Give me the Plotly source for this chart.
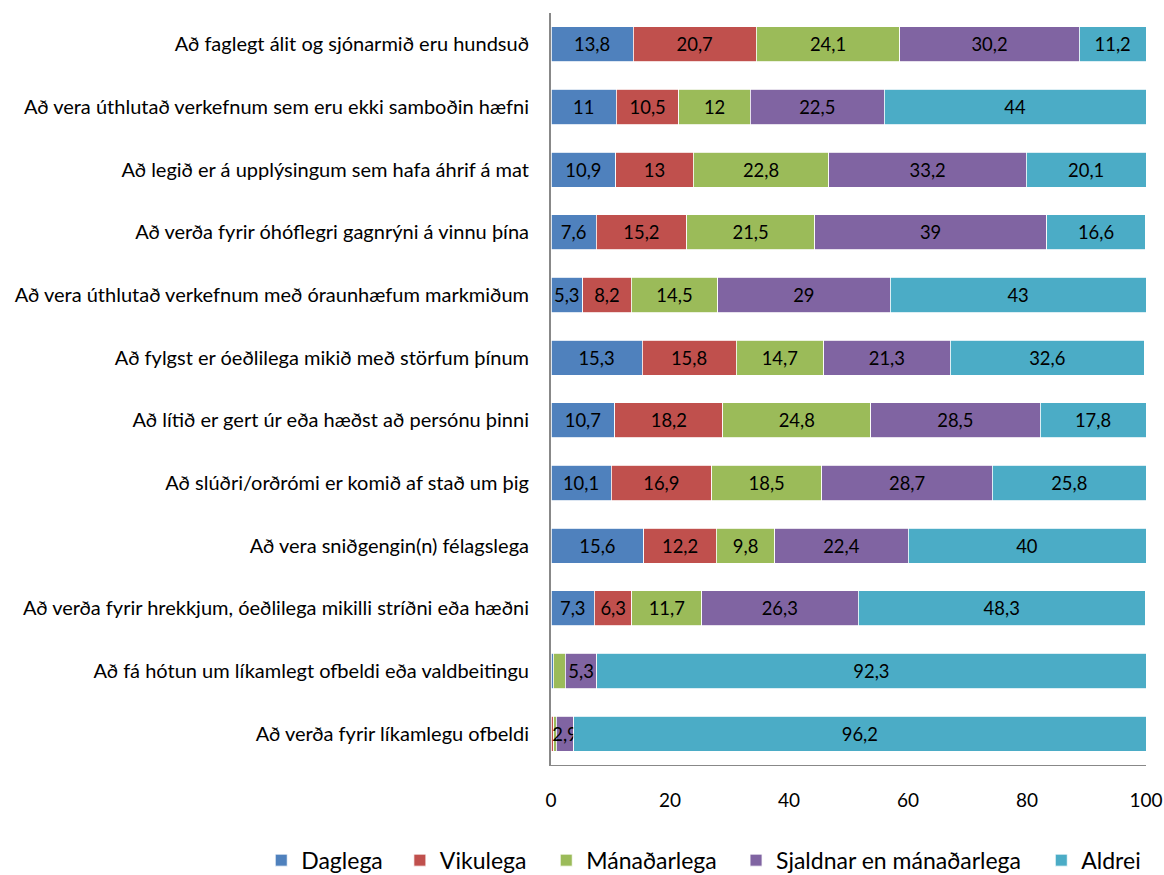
import plotly.graph_objects as go

categories = [
    'Að faglegt álit og sjónarmið eru hundsuð',
    'Að vera úthlutað verkefnum sem eru ekki samboðin hæfni',
    'Að legið er á upplýsingum sem hafa áhrif á mat',
    'Að verða fyrir óhóflegri gagnrýni á vinnu þína',
    'Að vera úthlutað verkefnum með óraunhæfum markmiðum',
    'Að fylgst er óeðlilega mikið með störfum þínum',
    'Að lítið er gert úr eða hæðst að persónu þinni',
    'Að slúðri/orðrómi er komið af stað um þig',
    'Að vera sniðgengin(n) félagslega',
    'Að verða fyrir hrekkjum, óeðlilega mikilli stríðni eða hæðni',
    'Að fá hótun um líkamlegt ofbeldi eða valdbeitingu',
    'Að verða fyrir líkamlegu ofbeldi',
]

daglega = [13.8, 11, 10.9, 7.6, 5.3, 15.3, 10.7, 10.1, 15.6, 7.3, 0.4, 0]
vikulega = [20.7, 10.5, 13, 15.2, 8.2, 15.8, 18.2, 16.9, 12.2, 6.3, 0, 0.5]
manadarlega = [24.1, 12, 22.8, 21.5, 14.5, 14.7, 24.8, 18.5, 9.8, 11.7, 2.0, 0.4]
sjaldnar = [30.2, 22.5, 33.2, 39, 29, 21.3, 28.5, 28.7, 22.4, 26.3, 5.3, 2.9]
aldrei = [11.2, 44, 20.1, 16.6, 43, 32.6, 17.8, 25.8, 40, 48.3, 92.3, 96.2]

series = [
    ('Daglega', daglega, '#4F81BD'),
    ('Vikulega', vikulega, '#C0504D'),
    ('Mánaðarlega', manadarlega, '#9BBB59'),
    ('Sjaldnar en mánaðarlega', sjaldnar, '#8064A2'),
    ('Aldrei', aldrei, '#4BACC6'),
]

# hver röð fær sína eigin skýringu svo bilin líkist Excel
legend_x = [-0.487, -0.254, -0.008, 0.311, 0.824]


def fmt(v):
    # merki aðeins sýnd ef gildið er nógu stórt
    if v < 2.5:
        return ''
    return f'{v:g}'.replace('.', ',')


fig = go.Figure()
for i, (name, vals, color) in enumerate(series):
    lg = 'legend' if i == 0 else f'legend{i + 1}'
    fig.add_trace(go.Bar(
        y=categories, x=vals, name=name, orientation='h',
        marker=dict(color=color, line=dict(color='white', width=0.8)),
        text=[fmt(v) for v in vals],
        textposition='inside', insidetextanchor='middle', textangle=0,
        textfont=dict(color='black', size=18.5),
        hovertemplate='%{y}<br>' + name + ': %{x}<extra></extra>',
        legend=lg, showlegend=True,
    ))

legends = {}
for i, x in enumerate(legend_x):
    key = 'legend' if i == 0 else f'legend{i + 1}'
    legends[key] = dict(orientation='h', xanchor='left', x=x, yanchor='top', y=-0.098,
                        font=dict(size=23), bgcolor='rgba(0,0,0,0)', visible=True)

fig.update_layout(
    barmode='stack',
    bargap=0.44,
    width=1164, height=875,
    showlegend=True,
    font=dict(family='Lato, sans-serif', size=20, color='black'),
    plot_bgcolor='white', paper_bgcolor='white',
    margin=dict(l=551, r=18, t=13, b=110, autoexpand=False),
    uniformtext=dict(minsize=18, mode='show'),
    **legends,
)
fig.update_yaxes(autorange='reversed', showgrid=False, zeroline=False,
                 showline=True, linecolor='#888888', linewidth=2,
                 ticks='', ticklabelstandoff=16)
fig.update_xaxes(range=[0, 100], dtick=20, showgrid=False, zeroline=False,
                 showline=True, linecolor='#888888', linewidth=1,
                 ticks='', ticklabelstandoff=18, tickfont=dict(size=19))

# enginn spássía um síðuna, svo myndin passi nákvæmlega í gluggann
fig.write_html('out.html', config={'displayModeBar': False},
               post_script="document.body.style.margin='0px';")
